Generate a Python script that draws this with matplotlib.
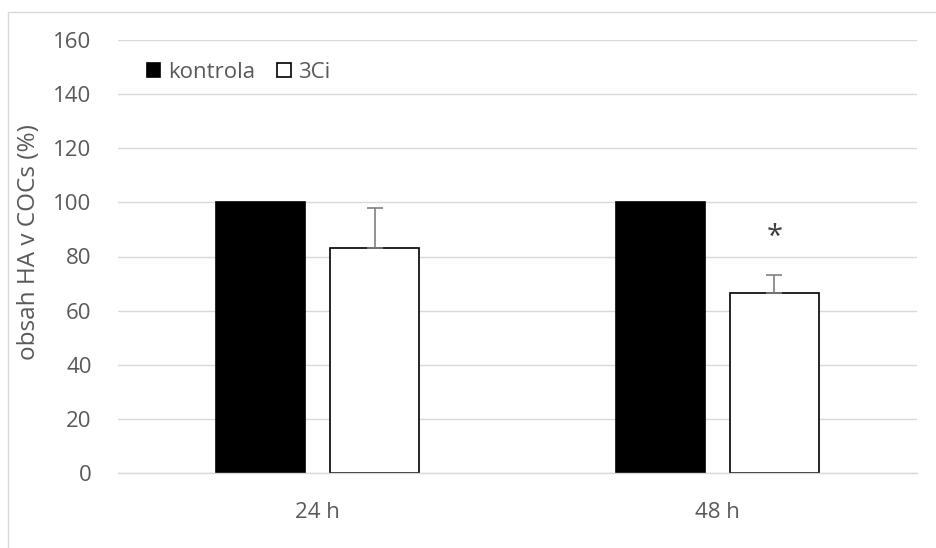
import numpy as np
import matplotlib
matplotlib.use('Agg')
import matplotlib.pyplot as plt
from matplotlib.patches import Rectangle

plt.rcParams['font.family'] = ['Open Sans', 'DejaVu Sans']

categories = ['24 h', '48 h']
kontrola = [100, 100]
kontrola_err = [0, 0]
ci3 = [83, 66.5]
ci3_err = [15, 6.5]
signif = ['', '*']

text_col = '#595959'
grid_col = '#d9d9d9'

fig = plt.figure(figsize=(9.36, 5.48), dpi=100)
ax = fig.add_axes([118/936, 1 - 473/548, 799/936, 433/548])

# light frame around the chart (only left/top visible in the crop)
fig.patches.append(Rectangle((8/936, -0.1), 1.2, (548-12)/548 + 0.1,
                             transform=fig.transFigure, fill=False,
                             edgecolor=grid_col, lw=1.0, zorder=0))

x = np.arange(len(categories))
w = 0.223
off = 0.143

ax.bar(x - off, kontrola, w, color='black', edgecolor='black', lw=1.2,
       label='kontrola', zorder=2)
ax.bar(x + off, ci3, w, color='white', edgecolor='black', lw=1.2,
       label='3Ci', zorder=2)
ax.errorbar(x + off, ci3, yerr=[np.zeros(len(ci3)), ci3_err], fmt='none',
            ecolor='#7f7f7f', elinewidth=1.2, capsize=6, capthick=1.2, zorder=3)

for xi, v, e, s in zip(x, ci3, ci3_err, signif):
    if s:
        ax.text(xi + off, v + e + 14, s, ha='center', va='center',
                fontsize=21, color='#404040')

ax.set_xlim(-0.5, 1.5)
ax.set_ylim(0, 160)
ax.set_yticks(np.arange(0, 161, 20))
ax.set_xticks(x)
ax.set_xticklabels(categories)
ax.yaxis.grid(True, color=grid_col, lw=1.0, zorder=0)
ax.set_axisbelow(True)
for sp in ['left', 'right', 'top']:
    ax.spines[sp].set_visible(False)
ax.spines['bottom'].set_color(grid_col)
ax.spines['bottom'].set_linewidth(1.0)
ax.tick_params(axis='both', length=0, labelsize=16, colors=text_col)
ax.tick_params(axis='y', pad=19)
ax.tick_params(axis='x', pad=21)
ax.set_ylabel('obsah HA v COCs (%)', fontsize=17.5, color=text_col)
ax.yaxis.set_label_coords(-(118 - 41) / 799, 0.533)

leg = ax.legend(loc='upper left', bbox_to_anchor=(0.036, 0.950), ncol=2,
                frameon=False, fontsize=16, handlelength=0.6, handleheight=0.6,
                handletextpad=0.35, columnspacing=1.0, borderpad=0,
                borderaxespad=0)
for t in leg.get_texts():
    t.set_color(text_col)

fig.savefig('out.png', dpi=100)
